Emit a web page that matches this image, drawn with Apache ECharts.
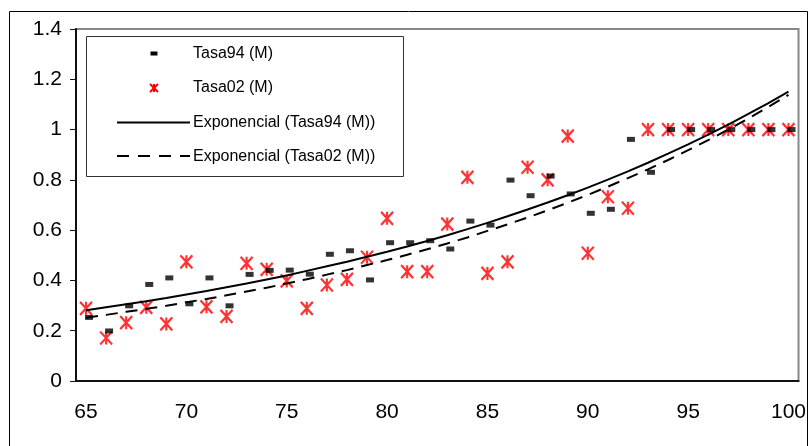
<!DOCTYPE html>
<html>
<head>
<meta charset="utf-8">
<script src="https://cdn.jsdelivr.net/npm/echarts@6/dist/echarts.min.js"></script>
<style>
html,body{margin:0;padding:0;background:#fff;}
#c{width:809px;height:446px;}
</style>
</head>
<body>
<div id="c"></div>
<script>
const categories = ['65','66','67','68','69','70','71','72','73','74','75','76','77','78','79','80','81','82','83','84','85','86','87','88','89','90','91','92','93','94','95','96','97','98','99','100'];
const tasa94 = [0.253,0.199,0.299,0.384,0.41,0.307,0.41,0.299,0.424,0.44,0.441,0.425,0.504,0.518,0.402,0.55,0.55,0.558,0.525,0.636,0.62,0.799,0.737,0.815,0.744,0.667,0.683,0.961,0.83,1,1,1,1,1,1,1];
const tasa02 = [0.289,0.171,0.232,0.293,0.227,0.474,0.295,0.257,0.468,0.444,0.398,0.289,0.382,0.404,0.492,0.647,0.435,0.435,0.624,0.81,0.428,0.474,0.85,0.80,0.974,0.508,0.733,0.687,1,1,1,1,1,1,1,1];
const trend94 = [0.281,0.293,0.305,0.317,0.330,0.344,0.358,0.373,0.388,0.404,0.420,0.438,0.456,0.474,0.494,0.514,0.535,0.557,0.580,0.604,0.629,0.655,0.682,0.710,0.739,0.769,0.801,0.834,0.868,0.904,0.941,0.980,1.020,1.062,1.105,1.151];
const trend02 = [0.252,0.263,0.275,0.287,0.299,0.313,0.326,0.341,0.356,0.371,0.388,0.405,0.423,0.441,0.461,0.481,0.502,0.524,0.547,0.571,0.597,0.623,0.650,0.679,0.709,0.740,0.773,0.807,0.842,0.879,0.918,0.958,1.000,1.044,1.090,1.138];
const seriesNames = ['Tasa94 (M)','Tasa02 (M)','Exponencial (Tasa94 (M))','Exponencial (Tasa02 (M))'];

const FONT = '"Liberation Sans", Arial, sans-serif';
const starPath = 'path://M0,0L12,12M12,0L0,12M6,0L6,12';

const chart = echarts.init(document.getElementById('c'), null, {renderer:'canvas'});
const legendTextStyle = {font: '16px ' + FONT, fill: '#000', verticalAlign: 'middle', textAlign: 'left'};
const redStroke = {stroke: '#ff0000', lineWidth: 2};
chart.setOption({
  animation: false,
  backgroundColor: '#fff',
  grid: {left: 76, right: 10, top: 29, bottom: 65, show: true, borderColor: '#888', borderWidth: 2, backgroundColor: 'transparent'},
  xAxis: {
    type: 'category', data: categories, boundaryGap: true,
    axisLine: {lineStyle: {color: '#111', width: 2}},
    axisTick: {interval: 4, length: 5, lineStyle: {color: '#111', width: 1}},
    axisLabel: {interval: 4, margin: 21, fontSize: 21, fontFamily: FONT, color: '#000'},
    splitLine: {show: false}
  },
  yAxis: {
    type: 'value', min: 0, max: 1.4, interval: 0.2,
    axisLine: {show: true, lineStyle: {color: '#111', width: 2}},
    axisTick: {show: true, length: 6, lineStyle: {color: '#111', width: 1}},
    axisLabel: {margin: 14, fontSize: 21, fontFamily: FONT, color: '#000'},
    splitLine: {show: false}
  },
  series: [
    {name: seriesNames[0], type: 'scatter', data: tasa94, symbol: 'rect', symbolSize: [8,5], symbolOffset: [3,0],
     itemStyle: {color: '#000'}, z: 3},
    {name: seriesNames[1], type: 'scatter', data: tasa02, symbol: starPath, symbolSize: [12,13],
     itemStyle: {color: 'rgba(0,0,0,0)', borderColor: '#ff0000', borderWidth: 2.2}, z: 2},
    {name: seriesNames[2], type: 'line', data: trend94, symbol: 'none', lineStyle: {color: '#000', width: 2}, z: 4},
    {name: seriesNames[3], type: 'line', data: trend02, symbol: 'none', lineStyle: {color: '#000', width: 2, type: [12,8]}, z: 4}
  ],
  graphic: [
    {type: 'rect', shape: {x: 9.5, y: 11.5, width: 798, height: 460}, style: {fill: 'none', stroke: '#000', lineWidth: 1}, silent: true, z: 0},
    {type: 'group', z: 100, children: [
      {type: 'rect', shape: {x: 86.5, y: 36.5, width: 317, height: 140}, style: {fill: '#fff', stroke: '#333', lineWidth: 1}},
      {type: 'rect', shape: {x: 150.5, y: 51.5, width: 7, height: 4}, style: {fill: '#000'}},
      {type: 'text', style: Object.assign({text: seriesNames[0], x: 193, y: 54}, legendTextStyle)},
      {type: 'line', shape: {x1: 150, y1: 84, x2: 158, y2: 92}, style: redStroke},
      {type: 'line', shape: {x1: 158, y1: 84, x2: 150, y2: 92}, style: redStroke},
      {type: 'line', shape: {x1: 154, y1: 84, x2: 154, y2: 92}, style: redStroke},
      {type: 'text', style: Object.assign({text: seriesNames[1], x: 193, y: 88}, legendTextStyle)},
      {type: 'line', shape: {x1: 117, y1: 122.5, x2: 190, y2: 122.5}, style: {stroke: '#000', lineWidth: 2}},
      {type: 'text', style: Object.assign({text: seriesNames[2], x: 193, y: 123}, legendTextStyle)},
      {type: 'line', shape: {x1: 117, y1: 156, x2: 190, y2: 156}, style: {stroke: '#000', lineWidth: 2, lineDash: [12,9]}},
      {type: 'text', style: Object.assign({text: seriesNames[3], x: 193, y: 157}, legendTextStyle)}
    ]}
  ]
});
</script>
</body>
</html>
